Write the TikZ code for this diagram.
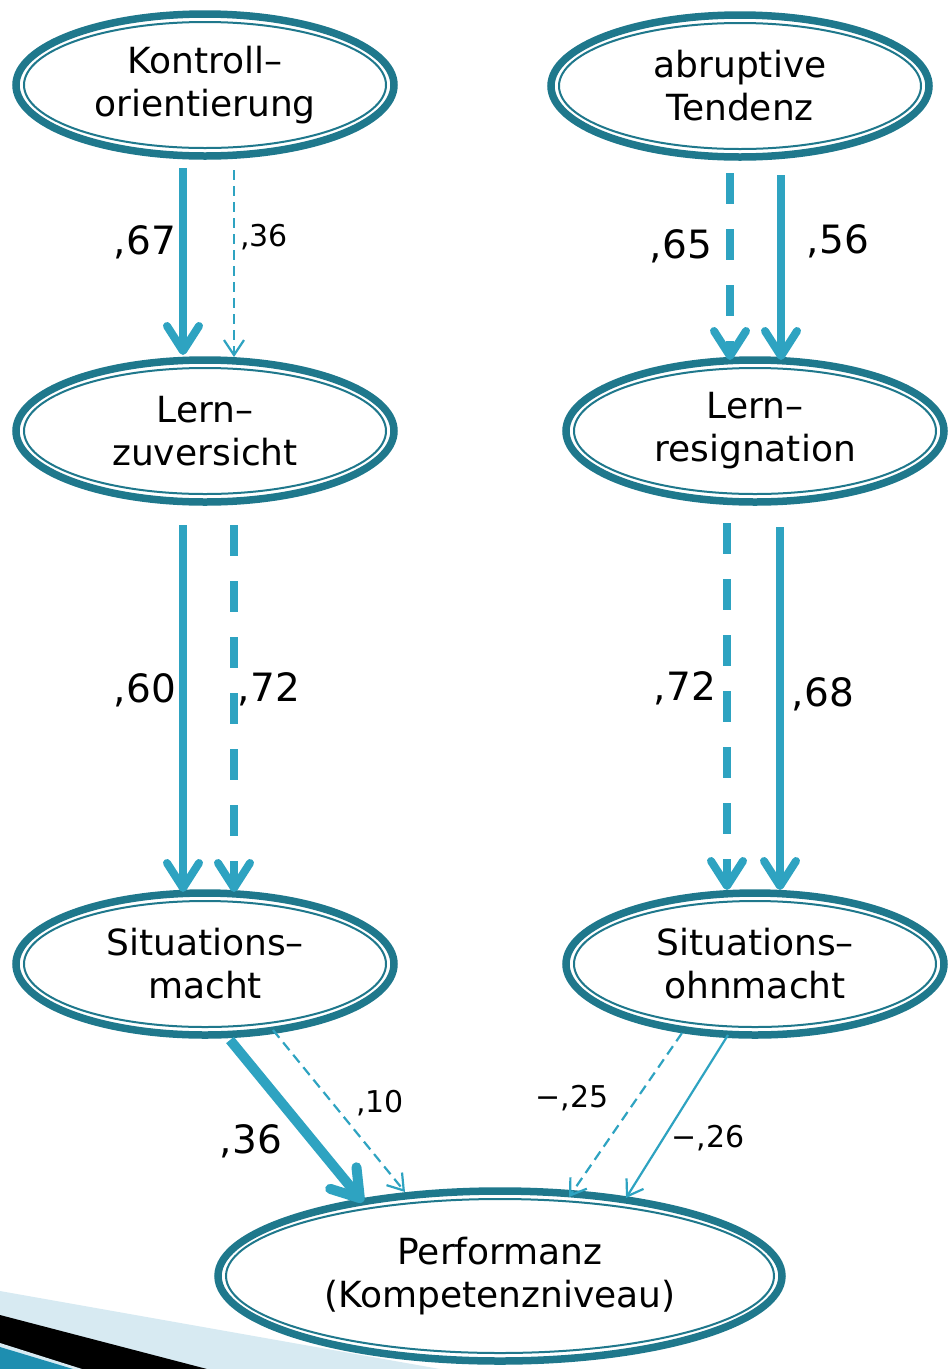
\documentclass[tikz,border=0pt]{standalone}
\usepackage{fontspec}
\setmainfont{DejaVu Sans}
\usetikzlibrary{arrows.meta,shapes.geometric,calc}
\definecolor{edark}{HTML}{1F788C}
\definecolor{arr}{HTML}{2EA3C1}
\definecolor{lband}{HTML}{D7EAF2}
\definecolor{tband}{HTML}{1E8EB0}
\begin{document}
\begin{tikzpicture}[x=1pt,y=-1pt,
  ell/.style 2 args={ellipse, draw=edark, fill=white, line width=7.5pt, inner sep=0pt, align=center,
    font=\fontsize{36}{43}\selectfont,
    path picture={\draw[edark,line width=2pt] (path picture bounding box.center) ellipse [x radius=#1, y radius=#2];}},
  smallell/.style={ell={181pt}{63pt}, minimum width=378pt, minimum height=142pt},
  bigell/.style={ell={274pt}{77pt}, minimum width=564pt, minimum height=170pt},
  lbig/.style={font=\fontsize{39}{39}\selectfont, anchor=base, inner sep=0pt},
  lsmall/.style={font=\fontsize{30}{30}\selectfont, anchor=base, inner sep=0pt},
  solidthick/.style={draw=arr, line width=8pt, -{Straight Barb[length=25pt,width=32pt,round]}},
  dashthick/.style={solidthick, dash pattern=on 31pt off 25pt},
  heavy/.style={draw=arr, line width=10pt, -{Straight Barb[length=26pt,width=34pt,round]}},
  thinarrow/.style={draw=arr, line width=2.2pt, -{Straight Barb[length=15pt,width=20pt]}},
  dashthin/.style={thinarrow, dash pattern=on 10pt off 6pt}
]
\useasboundingbox (0,0) rectangle (951,1369);
% background decoration
\fill[lband] (0,1291) -- (440,1369) -- (0,1369) -- cycle;
\fill[black] (0,1315) -- (207,1369) -- (0,1369) -- cycle;
\fill[lband] (0,1343) -- (82,1369) -- (0,1369) -- cycle;
\fill[tband] (0,1347) -- (73,1369) -- (0,1369) -- cycle;
% nodes
\node[smallell] (k) at (205,85) {Kontroll–\\orientierung};
\node[smallell] (a) at (740,86) {abruptive\\Tendenz};
\node[smallell] (lz) at (205,431) {Lern–\\zuversicht};
\node[smallell] (lr) at (755,431) {Lern–\\resignation};
\node[smallell] (sm) at (205,964) {Situations–\\macht};
\node[smallell] (so) at (755,964) {Situations–\\ohnmacht};
\node[bigell] (p) at (500,1276) {Performanz\\(Kompetenzniveau)};
% connectors
\draw[solidthick] ($(k)+(-22,83)$) -- ($(lz)+(-22,-76)$);
\draw[dashthin] ($(k)+(29,85)$) -- ($(lz)+(29,-74)$);
\draw[dashthick] ($(a)+(-10,87)$) -- ($(lr)+(-25,-71)$);
\draw[solidthick] ($(a)+(41,89)$) -- ($(lr)+(26,-71)$);
\draw[solidthick] ($(lz)+(-22,94)$) -- ($(sm)+(-22,-72)$);
\draw[dashthick] ($(lz)+(29,94)$) -- ($(sm)+(29,-72)$);
\draw[dashthick] ($(lr)+(-28,92)$) -- ($(so)+(-28,-74)$);
\draw[solidthick] ($(lr)+(25,96)$) -- ($(so)+(25,-74)$);
\draw[heavy] ($(sm)+(25,76)$) -- ($(p)+(-137,-74)$);
\draw[dashthin] ($(sm)+(68,66)$) -- ($(p)+(-95,-84)$);
\draw[dashthin] ($(so)+(-73,69)$) -- ($(p)+(69,-79)$);
\draw[thinarrow] ($(so)+(-27,71)$) -- ($(p)+(126,-78)$);
% labels
\node[lbig] (l1) at (145,254) {,67};
\node[lsmall] (l2) at (264,246) {,36};
\node[lbig] (l3) at (681,258) {,65};
\node[lbig] (l4) at (838,253) {,56};
\node[lbig] (l5) at (145,702) {,60};
\node[lbig] (l6) at (269,701) {,72};
\node[lbig] (l7) at (685,700) {,72};
\node[lbig] (l8) at (823,706) {,68};
\node[lbig] (l9) at (251,1153) {,36};
\node[lsmall] (l10) at (380,1112) {,10};
\node[lsmall] (l11) at (572,1107) {−,25};
\node[lsmall] (l12) at (708,1147) {−,26};
\end{tikzpicture}
\end{document}
